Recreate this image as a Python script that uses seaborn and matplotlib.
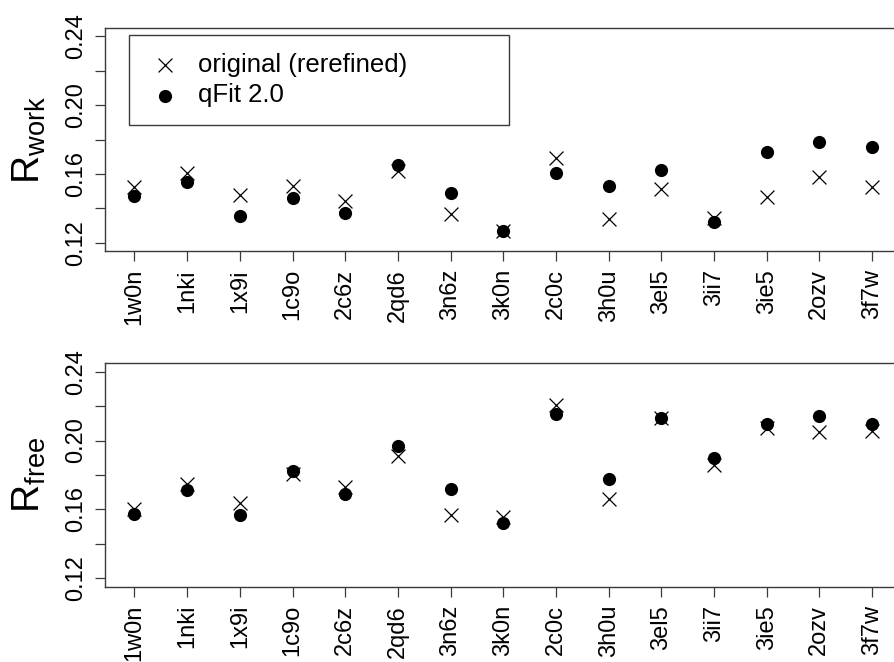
import numpy as np
import pandas as pd
import matplotlib.pyplot as plt
import seaborn as sns

# PDB entries, in plotted order
pdb_ids = ['1w0n', '1nki', '1x9i', '1c9o', '2c6z', '2qd6', '3n6z', '3k0n',
           '2c0c', '3h0u', '3el5', '3ii7', '3ie5', '2ozv', '3f7w']

# R values
rwork_original = [0.1526, 0.1608, 0.1478, 0.1530, 0.1440, 0.1619, 0.1366, 0.1266,
                  0.1691, 0.1339, 0.1511, 0.1345, 0.1465, 0.1584, 0.1526]
rwork_qfit = [0.1474, 0.1554, 0.1353, 0.1459, 0.1372, 0.1654, 0.1488, 0.1266,
              0.1604, 0.1530, 0.1623, 0.1322, 0.1726, 0.1787, 0.1757]
rfree_original = [0.1603, 0.1748, 0.1640, 0.1806, 0.1732, 0.1912, 0.1568, 0.1558,
                  0.2207, 0.1661, 0.2131, 0.1858, 0.2071, 0.2052, 0.2056]
rfree_qfit = [0.1576, 0.1713, 0.1568, 0.1824, 0.1690, 0.1969, 0.1721, 0.1520,
              0.2154, 0.1775, 0.2131, 0.1901, 0.2096, 0.2143, 0.2098]

y_ticks = [0.12, 0.14, 0.16, 0.18, 0.20, 0.22, 0.24]
y_ticklabels = ['0.12', '', '0.16', '', '0.20', '', '0.24']

sns.set_style('white')
plt.rcParams['font.family'] = ['Liberation Sans', 'DejaVu Sans']
plt.rcParams['mathtext.fontset'] = 'custom'
plt.rcParams['mathtext.rm'] = 'Liberation Sans'
plt.rcParams['mathtext.it'] = 'Liberation Sans:italic'
plt.rcParams['text.color'] = 'black'
plt.rcParams['axes.labelcolor'] = 'black'

AXIS_COLOR = '#3a3a3a'


def draw_panel(ax, original, qfit, ylabel):
    df_o = pd.DataFrame({'pdb': pdb_ids, 'R': original})
    df_q = pd.DataFrame({'pdb': pdb_ids, 'R': qfit})
    sns.scatterplot(data=df_o, x='pdb', y='R', marker='x', color='black', s=100,
                    linewidth=0.9, label='original (rerefined)', legend=False, ax=ax)
    sns.scatterplot(data=df_q, x='pdb', y='R', marker='o', color='black', s=90,
                    edgecolor='black', linewidth=0, label='qFit 2.0', legend=False, ax=ax)

    ax.set_xlim(-0.56, len(pdb_ids) - 1 + 0.56)
    ax.set_ylim(0.1152, 0.2448)
    ax.set_yticks(y_ticks)
    ax.set_yticklabels(y_ticklabels)
    plt.setp(ax.get_yticklabels(), rotation=90, va='center')
    plt.setp(ax.get_xticklabels(), rotation=90)

    for sp in ax.spines.values():
        sp.set_visible(True)
        sp.set_color(AXIS_COLOR)
        sp.set_linewidth(1.0)
    ax.tick_params(direction='out', length=7, width=0.9, color=AXIS_COLOR,
                   labelcolor='black', labelsize=17, pad=6, left=True, bottom=True)
    ax.set_xlabel('')
    ax.set_ylabel(ylabel, fontsize=28)
    ax.yaxis.set_label_coords(-0.072, 0.5)


fig = plt.figure(figsize=(8.94, 6.62), dpi=100)
ax_top = fig.add_axes([0.1174, 0.6208, 0.891, 0.3369])
ax_bot = fig.add_axes([0.1174, 0.1137, 0.891, 0.3375])

draw_panel(ax_top, rwork_original, rwork_qfit, r'$\mathrm{R}_{\mathrm{work}}$')
draw_panel(ax_bot, rfree_original, rfree_qfit, r'$\mathrm{R}_{\mathrm{free}}$')

leg = ax_top.legend(loc='upper left', bbox_to_anchor=(0.0301, 0.9686, 0.477, 0),
                    mode='expand', frameon=True, fancybox=False, edgecolor=AXIS_COLOR,
                    fontsize=18.5, borderpad=0.7, labelspacing=0.25,
                    handlelength=1.4, handletextpad=0.6, borderaxespad=0)
leg.get_frame().set_linewidth(1.0)
leg.get_frame().set_alpha(1)

fig.savefig('out.png', dpi=100)
